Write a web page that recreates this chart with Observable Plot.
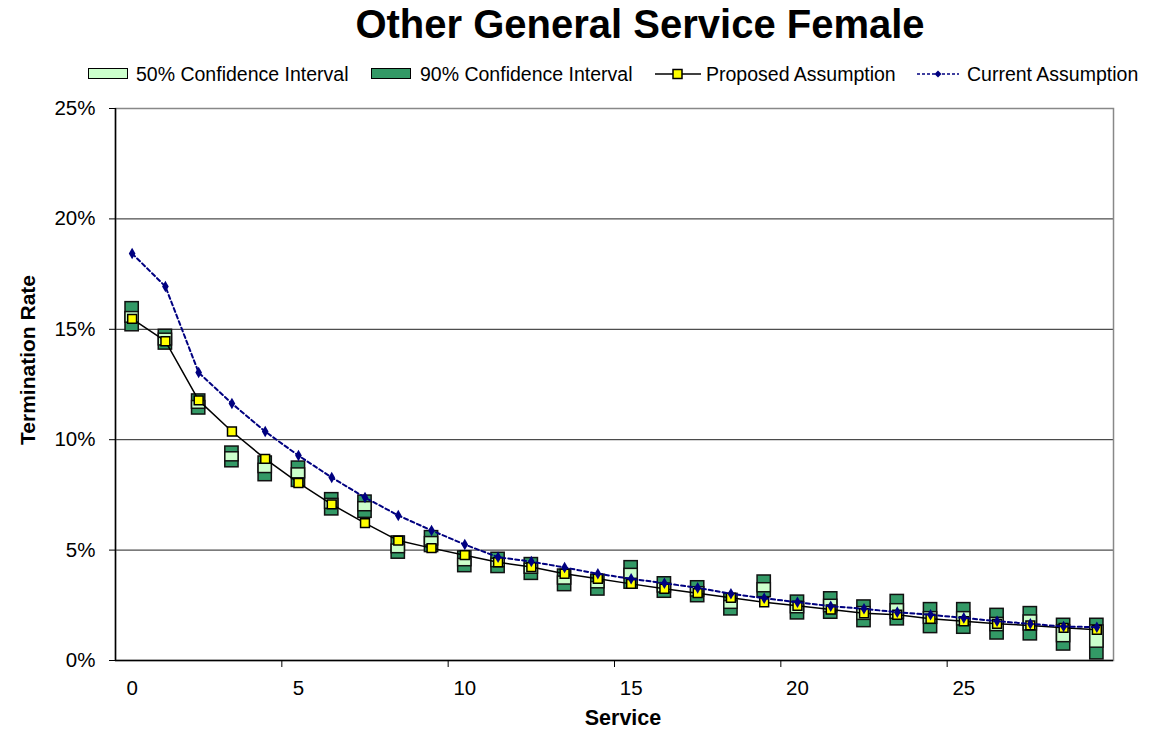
<!DOCTYPE html>
<html><head><meta charset="utf-8">
<script src="https://cdn.jsdelivr.net/npm/d3@7"></script>
<script src="https://cdn.jsdelivr.net/npm/@observablehq/plot@0.6"></script>
<style>
body{margin:0;background:#fff;font-family:"Liberation Sans",Arial,sans-serif;color:#000}
#wrap{position:relative;width:1156px;height:729px;overflow:hidden;background:#fff}
#title{position:absolute;left:240px;width:800px;top:2px;text-align:center;font-weight:bold;font-size:40px;line-height:44px;white-space:nowrap}
.lt{position:absolute;top:62px;font-size:19.5px;line-height:24px;white-space:nowrap}
.sw{position:absolute;top:68px;width:38px;height:9px;border:1.5px solid #000}
.ls{position:absolute;top:67px}
#chart{position:absolute;left:0;top:95px}
#ylab{position:absolute;left:28px;top:360px;transform:translate(-50%,-50%) rotate(-90deg);font-weight:bold;font-size:21px;white-space:nowrap}
#xlab{position:absolute;left:623px;top:706px;transform:translateX(-50%);font-weight:bold;font-size:21.5px;white-space:nowrap}
</style></head><body>
<div id="wrap">
<div id="title">Other General Service Female</div>
<div class="sw" style="left:88px;background:#ccffcc"></div><div class="lt" style="left:136px">50% Confidence Interval</div>
<div class="sw" style="left:371px;background:#339966"></div><div class="lt" style="left:420px">90% Confidence Interval</div>
<svg class="ls" style="left:655px" width="46" height="14"><line x1="0" y1="7" x2="46" y2="7" stroke="#000" stroke-width="1.5"/><rect x="18" y="2.5" width="9" height="9" fill="#ffff00" stroke="#000" stroke-width="1.5"/></svg>
<div class="lt" style="left:706px">Proposed Assumption</div>
<svg class="ls" style="left:917px" width="42" height="14"><line x1="0" y1="7" x2="42" y2="7" stroke="#000080" stroke-width="1.5" stroke-dasharray="3,2"/><path d="M21,3.5L24.5,7L21,10.5L17.5,7Z" fill="#000080"/></svg>
<div class="lt" style="left:967px">Current Assumption</div>
<div id="chart"></div>
<div id="ylab">Termination Rate</div>
<div id="xlab">Service</div>
</div>
<script>
const service = [0,1,2,3,4,5,6,7,8,9,10,11,12,13,14,15,16,17,18,19,20,21,22,23,24,25,26,27,28,29];
const proposed = [15.47,14.46,11.78,10.37,9.13,8.04,7.07,6.22,5.43,5.09,4.77,4.45,4.23,3.93,3.70,3.47,3.25,3.05,2.84,2.64,2.48,2.31,2.14,2.07,1.89,1.78,1.66,1.59,1.48,1.39];
const current = [18.43,16.94,13.04,11.64,10.37,9.28,8.29,7.38,6.57,5.89,5.25,4.68,4.48,4.21,3.93,3.70,3.50,3.29,3.02,2.82,2.64,2.46,2.34,2.19,2.07,1.93,1.78,1.66,1.54,1.51];
const p95 = [16.23,14.98,12.05,9.69,9.24,9.01,7.58,7.47,5.62,5.86,4.94,4.88,4.64,4.12,3.89,4.50,3.77,3.59,3.02,3.85,2.94,3.09,2.72,2.97,2.60,2.60,2.34,2.42,1.89,1.89];
const p75 = [15.78,14.80,11.75,9.43,8.91,8.70,7.32,7.17,5.25,5.59,4.60,4.61,4.38,3.80,3.55,4.15,3.49,3.32,2.69,3.50,2.64,2.75,2.42,2.55,2.19,2.19,1.93,2.04,1.59,1.59];
const p25 = [15.30,14.27,11.40,9.02,8.49,8.25,6.87,6.76,4.86,5.21,4.27,4.23,3.93,3.44,3.27,3.70,3.08,2.90,2.34,3.09,2.14,2.19,1.84,1.89,1.66,1.59,1.33,1.36,0.83,0.58];
const p5 = [14.91,14.08,11.14,8.75,8.12,7.86,6.57,6.46,4.61,4.91,4.00,3.96,3.65,3.14,2.94,3.25,2.84,2.64,2.04,2.87,1.86,1.89,1.51,1.59,1.24,1.21,0.95,0.91,0.45,0.05];
const yTicks = [0,5,10,15,20,25];
const xLabelTicks = [0,5,10,15,20,25];
const xMinorTicks = [4.5,9.5,14.5,19.5,24.5];

const data = service.map((s,i)=>({s, p5:p5[i], p25:p25[i], p75:p75[i], p95:p95[i], proposed:proposed[i], current:current[i]}));

const chart = Plot.plot({
  width:1156, height:634,
  marginLeft:115, marginRight:43, marginTop:13, marginBottom:69,
  x:{domain:[-0.5,29.5]},
  y:{domain:[0,25]},
  style:{fontFamily:'"Liberation Sans",Arial,sans-serif', fontSize:"20.5px", color:"#000", background:"#fff", overflow:"visible"},
  marks:[
    Plot.gridY(yTicks.slice(1), {stroke:"#222", strokeOpacity:1, strokeWidth:1}),
    Plot.frame({stroke:"#888", strokeWidth:1.5}),
    Plot.ruleY([0], {stroke:"#000", strokeWidth:1.5}),
    Plot.ruleX([-0.5], {stroke:"#000", strokeWidth:1.5}),
    Plot.axisY(yTicks, {tickFormat:d=>d+"%", tickSize:6, tickPadding:14, label:null}),
    Plot.axisX(xLabelTicks, {tickSize:0, tickPadding:20, label:null}),
    Plot.axisX(xMinorTicks, {tickSize:7, tickFormat:()=>"", label:null}),
    Plot.rect(data, {x1:d=>d.s-0.5, x2:d=>d.s+0.5, y1:"p5", y2:"p95", insetLeft:10, insetRight:10, fill:"#339966", stroke:"#111", strokeWidth:1.5}),
    Plot.rect(data, {x1:d=>d.s-0.5, x2:d=>d.s+0.5, y1:"p25", y2:"p75", insetLeft:10, insetRight:10, fill:"#ccffcc", stroke:"#111", strokeWidth:1.5}),
    Plot.line(data, {x:"s", y:"proposed", stroke:"#000", strokeWidth:1.5}),
    Plot.dot(data, {x:"s", y:"proposed", symbol:"square", r:5, fill:"#ffff00", stroke:"#000", strokeWidth:1.5}),
    Plot.line(data, {x:"s", y:"current", stroke:"#000080", strokeWidth:2, strokeDasharray:"4,3"}),
    Plot.dot(data, {x:"s", y:"current", symbol:"diamond", r:3.5, fill:"#000080"})
  ]
});
document.getElementById("chart").appendChild(chart);
</script>
</body></html>
